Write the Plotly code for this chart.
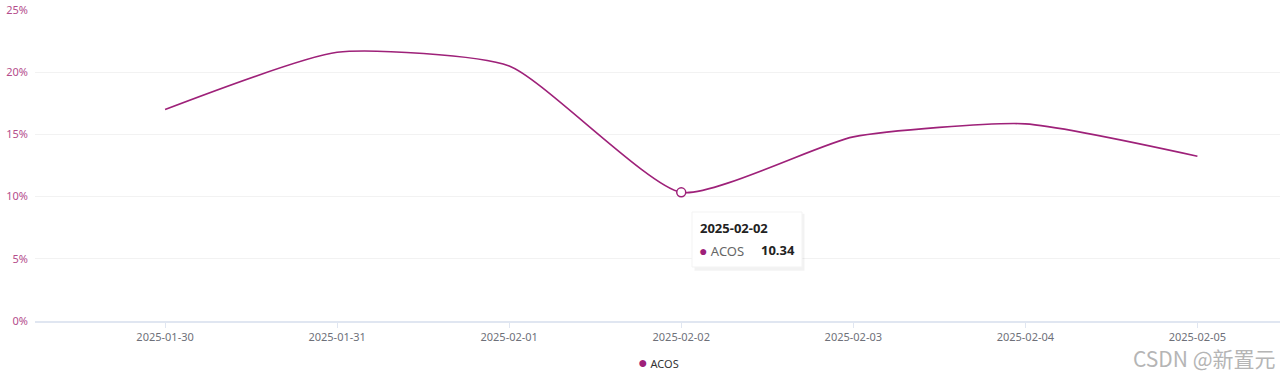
import plotly.graph_objects as go

dates = ["2025-01-30", "2025-01-31", "2025-02-01", "2025-02-02", "2025-02-03", "2025-02-04", "2025-02-05"]
acos = [17.0, 21.6, 20.5, 10.34, 14.8, 15.85, 13.25]
y_ticks = [0, 5, 10, 15, 20, 25]
y_tick_labels = ["0%", "5%", "10%", "15%", "20%", "25%"]
series_name = "ACOS"
hover_idx = 3

LINE = "#9e2179"
fig = go.Figure()
fig.add_trace(go.Scatter(x=dates, y=acos, mode="lines", line=dict(color=LINE, width=1.6, shape="spline", smoothing=0.55),
                         showlegend=False, hoverinfo="skip"))
fig.add_trace(go.Scatter(x=[dates[hover_idx]], y=[acos[hover_idx]], mode="markers",
                         marker=dict(size=9, color="white", line=dict(color=LINE, width=1.5)),
                         showlegend=False, hoverinfo="skip"))

W, L, T, B = 1245, 35, 10, 321
def px(x): return (x - L) / W
def py(y): return (B - y) / (B - T)

# tooltip box (paper coords)
x0, x1 = px(692), px(802)
y0, y1 = py(267), py(212)
fig.add_shape(type="rect", xref="paper", yref="paper", x0=x0+0.002, x1=x1+0.002, y0=y0-0.012, y1=y1-0.006,
              fillcolor="rgba(0,0,0,0.05)", line=dict(width=0), layer="above")
fig.add_shape(type="rect", xref="paper", yref="paper", x0=x0, x1=x1, y0=y0, y1=y1,
              fillcolor="white", line=dict(color="#f3f3f3", width=1), layer="above")
fig.add_annotation(xref="paper", yref="paper", x=px(698), y=py(228), xanchor="left", yanchor="middle",
                   text="<b>" + dates[hover_idx] + "</b>", showarrow=False,
                   font=dict(family="Noto Sans", size=13, color="#222"))
fig.add_annotation(xref="paper", yref="paper", x=px(697), y=py(250), xanchor="left", yanchor="middle",
                   text="<span style='color:%s;font-size:14px'>●</span> %s" % (LINE, series_name), showarrow=False,
                   font=dict(family="Noto Sans", size=13, color="#666"))
fig.add_annotation(xref="paper", yref="paper", x=px(797), y=py(250), xanchor="right", yanchor="middle",
                   text="<b>%.2f</b>" % acos[hover_idx], showarrow=False,
                   font=dict(family="Noto Sans", size=13, color="#222"))

# legend (as text)
fig.add_annotation(xref="paper", yref="paper", x=px(636), y=py(362), xanchor="left", yanchor="middle",
                   text="<span style='color:%s;font-size:16px'>●</span> <span style='font-size:11px'>%s</span>" % (LINE, series_name),
                   showarrow=False, font=dict(family="Noto Sans", size=11, color="#333"))

# watermark
fig.add_annotation(xref="paper", yref="paper", x=px(1278), y=py(358), xanchor="right", yanchor="middle",
                   text="CSDN @新置元", showarrow=False,
                   font=dict(family="Noto Sans CJK SC", size=21, color="#b5b5b5"))

fig.update_layout(
    width=1280, height=381,
    margin=dict(l=35, r=0, t=10, b=60, autoexpand=False),
    paper_bgcolor="white", plot_bgcolor="white",
    font=dict(family="Noto Sans", size=11),
    showlegend=False,
    xaxis=dict(type="category", range=[-0.756, 6.48], showgrid=False,
               showline=True, linecolor="#e0e6f1", linewidth=1.5,
               ticks="outside", ticklen=5, tickcolor="#e0e6f1",
               tickfont=dict(color="#6e7079", size=11)),
    yaxis=dict(range=[0, 25], tickvals=y_ticks, ticktext=y_tick_labels, showgrid=True, gridcolor="#f2f2f2",
               zeroline=False, showline=False, tickfont=dict(color="#b44d8c", size=11), ticklabelstandoff=6),
    hovermode=False,
)
fig.write_html("out.html", config={"displayModeBar": False},
               post_script="document.body.style.margin='0';document.body.style.overflow='hidden';")
